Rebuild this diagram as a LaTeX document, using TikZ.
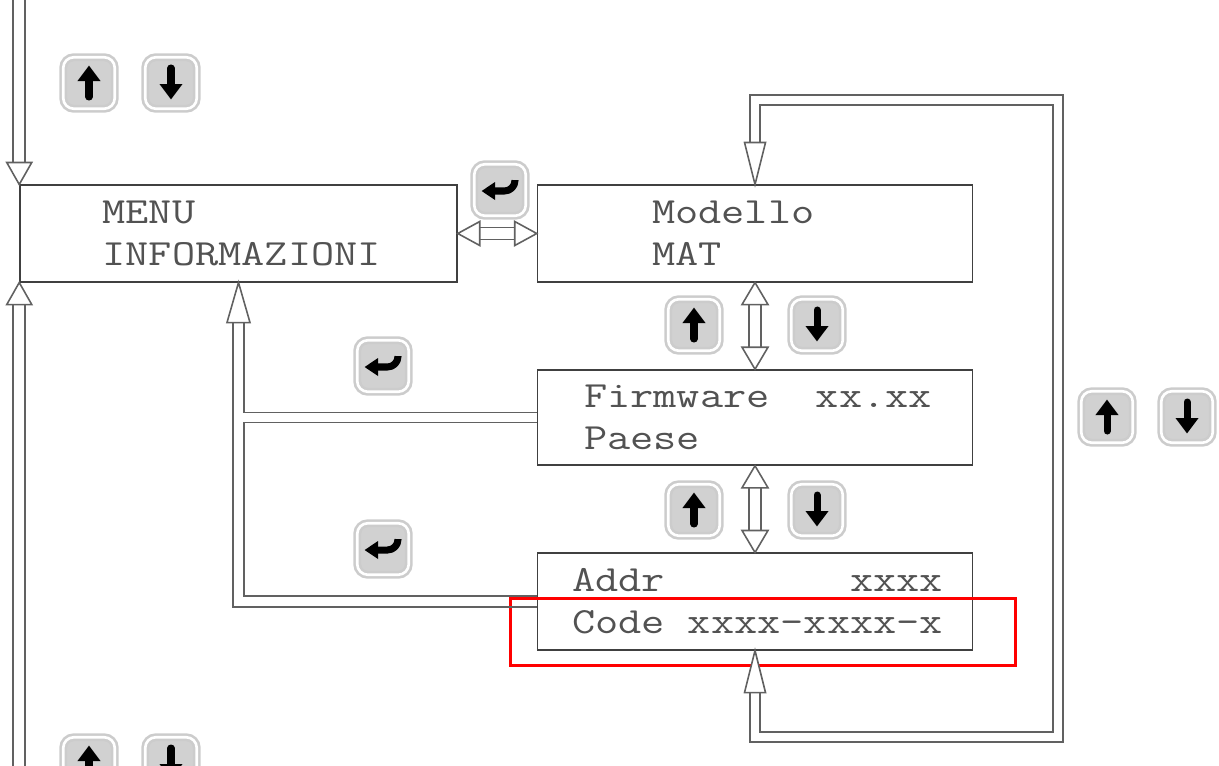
\documentclass[tikz,border=0pt]{standalone}
\usepackage{fontspec}
\newfontfamily\lcdfont{Latin Modern Mono}[FakeStretch=1.22]
\usetikzlibrary{arrows.meta,positioning,calc}

% hollow arrow head: tip, direction, length, width
\newcommand{\ohead}[4]{%
  \draw[rail, fill=white, shift={(#1)}, rotate=#2] (0,0) -- (-#3,#4/2) -- (-#3,-#4/2) -- cycle;}

\begin{document}
\begin{tikzpicture}[
  x=0.02cm, y=-0.02cm,
  screen/.style={draw=black!75, line width=0.9pt, minimum width=8.7cm,
              minimum height=1.93cm, inner sep=0pt},
  lcd/.style={font={\lcdfont\fontsize{21}{23.8}\selectfont}, text=black!68,
              align=left, anchor=west, inner sep=0pt},
  rail/.style={draw=black!62, line width=0.9pt},
  key/.style={draw=black!20, line width=1.5pt, double=white, double distance=1.5pt,
              fill=black!18, rounded corners=6pt, minimum size=1.03cm, inner sep=0pt},
  glyph/.style={line width=4pt, black},
  keyup/.style={key, path picture={
      \draw[glyph, line cap=round, -{Triangle[width=0.44cm, length=0.31cm]}]
        ([yshift=-0.28cm]path picture bounding box.center) --
        ([yshift=0.35cm]path picture bounding box.center);}},
  keydown/.style={key, path picture={
      \draw[glyph, line cap=round, -{Triangle[width=0.44cm, length=0.31cm]}]
        ([yshift=0.3cm]path picture bounding box.center) --
        ([yshift=-0.33cm]path picture bounding box.center);}},
  keyenter/.style={key, path picture={
      \draw[glyph, line join=round, -{Triangle[width=0.34cm, length=0.27cm]}]
        ([shift={(0.3cm,0.2cm)}]path picture bounding box.center) --
        ([shift={(0.3cm,-0.02cm)}]path picture bounding box.center) --
        ([shift={(-0.37cm,-0.02cm)}]path picture bounding box.center);}},
  hilite/.style={draw=red, line width=1.7pt, minimum width=10.12cm,
              minimum height=1.34cm, inner sep=0pt},
]
\useasboundingbox (0,0) rectangle (1219,765);

% === Screens ===
\node[screen, minimum width=8.74cm] (menu) at (238.5,233.5) {};
\node[screen] (modello) at (755,233.5) {};
\node[screen, minimum height=1.9cm] (fw) at (755,417.5) {};
\node[screen] (addr) at (755,601.5) {};

\node[lcd] (menutxt) at ($(menu.west)+(83,0)$) {MENU\\INFORMAZIONI};
\node[lcd] (modtxt) at ($(modello.west)+(115,0)$) {Modello\\MAT};
\node[lcd] (fwtxt) at ($(fw.west)+(47,0)$) {Firmware\phantom{xx}xx.xx\\Paese};
\node[lcd] (addrtxt) at ($(addr.west)+(35,0)$) {Addr\phantom{xxxxxxxx}xxxx\\Code xxxx-xxxx-x};

\node[hilite] (hl) at (763,631.5) {};

% === Keys ===
\node[keyup] (k1) at (89,83) {};
\node[keydown] (k2) at (171,83) {};
\node[keyenter] (e1) at (500,190) {};
\node[keyup] (k3) at (694,325) {};
\node[keydown] (k4) at (817,325) {};
\node[keyenter] (e2) at (383,366) {};
\node[keyup] (k5) at (694,510) {};
\node[keydown] (k6) at (817,510) {};
\node[keyenter] (e3) at (383,549) {};
\node[keyup] (k7) at (1107,417) {};
\node[keydown] (k8) at (1187,417) {};
\node[keyup] (k9) at (89,763) {};
\node[keydown] (k10) at (171,763) {};

% === Hollow connectors ===
% entry from above and from below
\foreach \s in {-6,6}
  \draw[rail] ($(menu.north west)+(\s,-22)$) -- ($(menu.north west)+(\s,-190)$);
\ohead{menu.north west}{-90}{22}{25}
\foreach \s in {-6,6}
  \draw[rail] ($(menu.south west)+(\s,22)$) -- ($(menu.south west)+(\s,490)$);
\ohead{menu.south west}{90}{22}{25}

% menu <-> modello
\foreach \s in {-6,6}
  \draw[rail] ($(menu.east)+(22,\s)$) -- ($(modello.west)+(-22,\s)$);
\ohead{menu.east}{180}{22}{24}
\ohead{modello.west}{0}{22}{24}

% modello <-> firmware <-> addr
\foreach \s in {-6,6} {
  \draw[rail] ($(modello.south)+(\s,22)$) -- ($(fw.north)+(\s,-22)$);
  \draw[rail] ($(fw.south)+(\s,22)$) -- ($(addr.north)+(\s,-22)$);
}
\ohead{modello.south}{90}{22}{26}
\ohead{fw.north}{-90}{22}{26}
\ohead{fw.south}{90}{22}{26}
\ohead{addr.north}{-90}{22}{26}

% back to menu
\draw[rail] ($(menu.south)+(-5.5,40)$) |- ($(addr.west)+(0,5.5)$);
\draw[rail] ($(menu.south)+(5.5,40)$) |- ($(fw.west)+(0,-5)$);
\draw[rail] ($(fw.west)+(0,5)$) -| ($(addr.west -| menu.south)+(5.5,-5.5)$) -- ($(addr.west)+(0,-5.5)$);
\ohead{menu.south}{90}{40}{23}

% loop addr -> modello
\coordinate (loopbr) at (1058,737);
\coordinate (looptr) at (1058,100);
\draw[rail] ($(addr.south)+(-5,42)$) |- ($(loopbr)+(5,5)$) -- ($(looptr)+(5,-5)$) -| ($(modello.north)+(-5,-42)$);
\draw[rail] ($(addr.south)+(5,42)$) |- ($(loopbr)+(-5,-5)$) -- ($(looptr)+(-5,5)$) -| ($(modello.north)+(5,-42)$);
\ohead{addr.south}{90}{42}{21}
\ohead{modello.north}{-90}{42}{21}

\end{tikzpicture}
\end{document}
